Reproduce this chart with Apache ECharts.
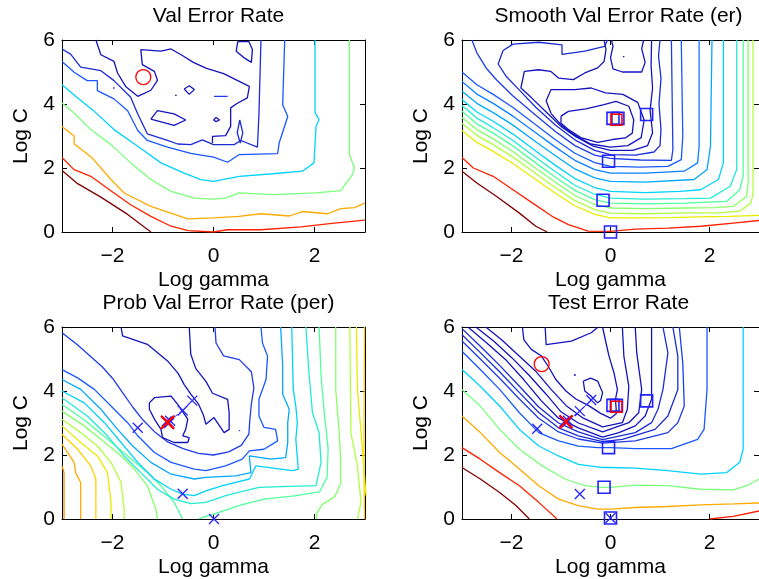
<!DOCTYPE html>
<html>
<head>
<meta charset="utf-8">
<script src="https://cdn.jsdelivr.net/npm/echarts@6/dist/echarts.min.js"></script>
<style>
html, body { margin: 0; padding: 0; background: #fff; }
#main { width: 759px; height: 579px; }
</style>
</head>
<body>
<div id="main"></div>
<script>
var xTicks = [-2, 0, 2];
var yTicks = [0, 2, 4, 6];
var titles = ['Val Error Rate', 'Smooth Val Error Rate (er)', 'Prob Val Error Rate (per)', 'Test Error Rate'];

// ---- Val Error Rate (top left) contour lines, [log gamma, log C]
var valDarkRed = [[-3,1.92],[-2.69,1.51],[-2.23,1.09],[-1.70,0.55],[-1.24,0]];
var valRed = [[-3,2.33],[-2.76,1.95],[-2.43,1.74],[-1.97,1.22],[-1.64,0.85],[-1.24,0.49],[-0.84,0.18],[-0.5,0.04],[0,0],[0.28,0.07],[0.94,0.07],[1.73,0.16],[2.39,0.28],[3,0.37]];
var valOrange = [[-3,3.30],[-2.76,3.0],[-2.76,2.76],[-2.40,2.31],[-2.03,1.64],[-1.77,1.22],[-1.24,0.80],[-0.51,0.41],[0,0.44],[0.5,0.49],[0.94,0.57],[1.5,0.5],[1.76,0.64],[2.26,0.57],[2.52,0.73],[2.79,0.76],[3,0.9]];
var valGreen = [[-3,4.03],[-2.76,3.72],[-2.43,3.20],[-2.03,2.73],[-1.64,2.16],[-1.24,1.64],[-0.84,1.27],[-0.38,1.06],[0,1.03],[0.24,1.06],[0.51,1.22],[1.17,1.17],[2.03,1.22],[2.52,1.29],[2.75,1.79],[2.79,2.0],[2.69,2.42],[2.69,6]];
var valCyan = [[-3,4.60],[-2.69,4.19],[-2.36,3.77],[-1.97,3.20],[-1.50,2.68],[-1.04,2.16],[-0.58,1.84],[-0.25,1.64],[0,1.58],[0.51,1.74],[1.17,1.82],[1.76,1.90],[1.99,2.16],[2.03,3.30],[2.09,3.51],[2.01,3.74],[2.01,6]];
var valBlue = [[-3,5.33],[-2.76,4.99],[-2.5,4.73],[-2.30,4.73],[-2.30,4.42],[-1.97,4.16],[-1.70,3.79],[-1.50,3.17],[-1.31,2.86],[-0.91,2.65],[-0.45,2.46],[0,2.34],[0.28,2.18],[0.51,2.42],[1.27,2.45],[1.30,2.78],[1.47,3.61],[1.37,3.98],[1.41,6]];
var valDark = [[-3,5.72],[-2.83,5.56],[-2.63,5.15],[-2.23,5.04],[-1.97,4.73],[-1.64,4.21],[-1.50,3.69],[-1.31,3.07],[-0.91,2.86],[-0.71,2.75],[-0.45,2.73],[-0.22,2.88],[0,2.73],[0.41,2.73],[0.54,2.86],[0.87,2.65],[0.9,3.69],[0.94,6]];
var valNavy = [[-2.33,6],[-2.23,5.54],[-1.97,5.33],[-1.90,4.97],[-1.74,4.55],[-1.50,4.24],[-1.24,4.43],[-1.11,4.74],[-1.17,5.02],[-1.41,5.23],[-1.44,5.70],[-1.04,5.65],[-0.84,5.72],[-0.6,5.5],[-0.4,5.3],[-0.15,5.12],[0.2,4.95],[0.71,4.55],[0.67,4.19],[0.48,4.03],[0.34,3.88],[0.34,3.30],[0.24,3.01],[-0.02,2.99],[-0.02,2.78]];
var valLoop1 = [[-1.24,3.53],[-1.11,3.79],[-0.78,3.69],[-0.55,3.50],[-0.78,3.33],[-1.24,3.53]];
var valLoop2 = [[-0.58,4.47],[-0.48,4.57],[-0.38,4.45],[-0.48,4.3],[-0.58,4.47]];
var valLoop3 = [[0.48,5.95],[0.45,5.65],[0.6,5.45],[0.75,5.3],[0.77,5.7],[0.7,5.95],[0.48,5.95]];
var valLoop4 = [[0.0,3.5],[0.05,3.58],[0.12,3.5],[0.05,3.45],[0.0,3.5]];
var valLoop5 = [[0.52,3.5],[0.47,3.1],[0.53,2.78],[0.58,3.1],[0.52,3.5]];
var valDash = [[0.01,4.24],[0.28,4.24]];
var valDot1 = [[-1.99,4.5],[-1.96,4.5]];
var valDot2 = [[-0.76,4.27],[-0.73,4.27]];

// ---- Smooth Val Error Rate (top right)
var smDarkRed = [[-3,1.90],[-2.70,1.53],[-2.30,1.11],[-1.84,0.59],[-1.51,0.18],[-1.28,0]];
var smRed = [[-3,2.33],[-2.77,2.0],[-2.37,1.74],[-1.97,1.32],[-1.58,0.91],[-1.18,0.49],[-0.85,0.23],[-0.45,0.03],[0,0.02],[0.5,0.09],[1.16,0.12],[1.82,0.18],[2.48,0.28],[3,0.36]];
var smYellow = [[-3,3.17],[-2.7,2.80],[-2.37,2.52],[-1.97,2.14],[-1.51,1.64],[-1.12,1.22],[-0.72,0.82],[-0.32,0.55],[0,0.44],[0.6,0.44],[1.2,0.45],[1.8,0.47],[2.4,0.49],[3,0.52]];
var smYg = [[-3,3.40],[-2.7,3.02],[-2.37,2.73],[-1.97,2.34],[-1.51,1.83],[-1.12,1.39],[-0.72,0.98],[-0.32,0.70],[0,0.59],[0.7,0.57],[1.5,0.6],[2.2,0.6],[2.61,0.65],[2.84,0.91],[2.88,1.22],[2.88,6]];
var smLg = [[-3,3.58],[-2.7,3.20],[-2.37,2.91],[-1.97,2.51],[-1.51,1.99],[-1.12,1.56],[-0.72,1.14],[-0.32,0.86],[0,0.75],[0.7,0.73],[1.5,0.75],[2.1,0.76],[2.48,0.80],[2.75,1.11],[2.78,1.53],[2.78,6]];
var smGc = [[-3,3.77],[-2.7,3.38],[-2.37,3.09],[-1.97,2.69],[-1.51,2.16],[-1.12,1.72],[-0.72,1.30],[-0.32,1.01],[0,0.90],[0.7,0.88],[1.5,0.9],[2.35,0.96],[2.61,1.32],[2.68,1.74],[2.68,6]];
var smAqua = [[-3,3.95],[-2.7,3.56],[-2.37,3.26],[-1.97,2.86],[-1.51,2.33],[-1.12,1.89],[-0.72,1.46],[-0.32,1.18],[0,1.06],[0.7,1.03],[1.5,1.04],[2.02,1.06],[2.42,1.43],[2.55,1.95],[2.55,6]];
var smCyan = [[-3,4.14],[-2.7,3.75],[-2.37,3.46],[-1.97,3.06],[-1.51,2.53],[-1.12,2.09],[-0.72,1.67],[-0.32,1.39],[0,1.27],[0.7,1.23],[1.4,1.27],[1.82,1.32],[2.18,1.64],[2.28,2.16],[2.28,6]];
var smSky = [[-3,4.40],[-2.7,4.02],[-2.37,3.73],[-1.97,3.34],[-1.51,2.82],[-1.12,2.39],[-0.72,1.97],[-0.32,1.69],[0,1.58],[0.7,1.56],[1.69,1.64],[1.95,1.95],[2.02,2.68],[2.05,6]];
var smLb = [[-3,4.70],[-2.7,4.31],[-2.37,4.02],[-1.97,3.62],[-1.51,3.10],[-1.12,2.66],[-0.72,2.24],[-0.32,1.95],[0,1.84],[0.7,1.84],[1.49,1.90],[1.76,2.16],[1.79,2.68],[1.79,6]];
var smBlue = [[-3,5.0],[-2.7,4.60],[-2.37,4.30],[-1.97,3.89],[-1.51,3.35],[-1.12,2.89],[-0.72,2.46],[-0.32,2.17],[0,2.05],[0.6,2.03],[1.16,2.05],[1.43,2.26],[1.46,2.99],[1.43,6]];
var smBlue2 = [[-2.8,6],[-2.7,5.6],[-2.5,5.1],[-2.3,4.75],[-1.97,4.25],[-1.51,3.65],[-1.12,3.15],[-0.72,2.7],[-0.32,2.4],[0,2.3],[0.6,2.25],[1.23,2.24],[1.26,2.57],[1.23,6]];
var smNavy1 = [[-0.06,6],[-0.12,5.8],[-0.52,5.65],[-0.98,5.55],[-0.98,5.85],[-1.45,5.93],[-1.97,5.87],[-2.17,5.67],[-2.27,5.25],[-2.1,4.85],[-1.85,4.45],[-1.51,3.9],[-1.12,3.35],[-0.72,2.88],[-0.32,2.55],[0,2.42],[0.5,2.4],[0.88,2.5],[1.0,2.7],[1.02,3.2],[0.98,4.0],[1.02,4.8],[0.97,5.5],[1.0,6]];
var smNavy2 = [[-0.13,6],[-0.09,5.7],[-0.13,5.33],[-0.26,5.13],[-0.52,4.97],[-0.75,4.76],[-1.05,4.81],[-1.21,5.02],[-1.45,5.07],[-1.74,5.02],[-1.81,4.5],[-1.6,4.2],[-1.3,3.75],[-1.0,3.3],[-0.7,2.98],[-0.35,2.68],[0,2.55],[0.45,2.55],[0.75,2.7],[0.85,3.1],[0.8,3.8],[0.85,4.5],[0.82,5.2],[0.83,6]];
var smNavy3 = [[0.02,6],[0.05,5.8],[0.0,5.45],[0.05,5.1],[0.24,5.0],[0.63,5.0],[0.70,5.3],[0.63,5.73],[0.67,6]];
var smLoopC = [[-1.2,3.7],[-1.3,4.1],[-1.2,4.45],[-1.0,4.45],[-0.72,4.45],[-0.39,4.5],[-0.1,4.35],[0.25,4.3],[0.55,4.05],[0.68,3.5],[0.62,2.95],[0.35,2.7],[0,2.65],[-0.4,2.75],[-0.75,3.05],[-1.0,3.35],[-1.2,3.7]];
var smLoopA = [[-1.0,3.62],[-0.85,3.77],[-0.5,3.85],[-0.13,3.98],[0.11,4.08],[0.37,3.93],[0.47,3.51],[0.44,3.09],[0.30,2.94],[0.04,2.89],[-0.26,2.8],[-0.6,2.95],[-0.85,3.2],[-1.0,3.4],[-1.0,3.62]];
var smDot = [[0.25,5.48],[0.28,5.48]];

// ---- Prob Val Error Rate (bottom left)
var prOrange2 = [[-3,1.66],[-2.96,1.45],[-2.96,0]];
var prOrange = [[-3,2.34],[-2.76,1.77],[-2.73,1.45],[-2.63,1.14],[-2.63,0]];
var prOrangeR = [[2.99,6],[2.98,3],[2.98,1.5],[2.99,0]];
var prYo = [[-3,2.65],[-2.69,2.18],[-2.43,1.66],[-2.33,1.25],[-2.33,0]];
var prYellow = [[-3,2.91],[-2.63,2.39],[-2.30,1.97],[-2.10,1.45],[-2.03,0.52],[-2.03,0]];
var prYellowR = [[2.83,6],[2.85,4.05],[2.95,2.18],[3.02,0.73]];
var prYg = [[-3,3.12],[-2.63,2.70],[-2.30,2.28],[-2.03,1.77],[-1.83,1.14],[-1.77,0.31],[-1.77,0]];
var prYgR = [[2.70,6],[2.72,2.70],[2.85,1.66],[2.92,0.52],[2.85,0]];
var prGreen = [[-3,3.37],[-2.56,2.91],[-2.23,2.49],[-1.83,1.97],[-1.57,1.56],[-1.31,1.04],[-1.14,0.31],[-1.11,0]];
var prGreenR = [[2.42,6],[2.42,4.05],[2.49,2.7],[2.52,1.77],[2.52,1.1],[2.4,0.7],[2.15,0.45],[2.05,0.2],[2.03,0]];
var prGc = [[-3,3.58],[-2.56,3.1],[-2.10,2.5],[-1.70,1.97],[-1.31,1.45],[-1.04,1.04],[-0.78,0.52],[-0.61,0]];
var prGcR = [[2.09,6],[2.13,4.5],[2.2,3.2],[2.27,2.2],[2.25,1.3],[2.1,0.85],[1.6,0.72],[1.0,0.62],[0.5,0.42],[0.1,0.2],[-0.2,0.06],[-0.3,0]];
var prCyan = [[-3,3.79],[-2.50,3.22],[-2.10,2.60],[-1.77,1.97],[-1.44,1.45],[-1.11,0.93],[-0.78,0.62],[-0.45,0.48],[-0.15,0.52],[0.24,0.73],[0.90,0.99],[1.5,1.02],[2.03,1.04],[2.13,1.77],[2.09,2.70],[1.96,3.32],[1.89,4.57],[1.83,6]];
var prSky = [[-3,4.0],[-2.56,3.63],[-2.16,3.01],[-1.83,2.39],[-1.5,1.77],[-1.17,1.25],[-0.84,0.93],[-0.61,0.78],[-0.38,0.73],[-0.15,0.88],[0.18,1.04],[0.71,1.25],[0.84,1.66],[1.56,1.51],[1.68,1.56],[1.63,2.49],[1.66,3.01],[1.63,3.53],[1.58,4.05],[1.55,6]];
var prBlue = [[-3,4.36],[-2.63,4.05],[-2.23,3.43],[-1.90,2.80],[-1.60,2.28],[-1.24,1.77],[-0.84,1.40],[-0.38,1.25],[-0.15,1.30],[0.44,1.35],[0.74,1.45],[0.71,1.97],[1.14,1.87],[1.43,1.92],[1.47,2.39],[1.47,3.01],[1.5,3.43],[1.37,3.9],[1.37,4.8],[1.33,6]];
var prBlue2 = [[-3,4.67],[-2.69,4.41],[-2.36,4.05],[-2.03,3.53],[-1.70,3.01],[-1.50,2.60],[-1.17,2.08],[-0.84,1.77],[-0.38,1.56],[-0.15,1.51],[0.24,1.66],[0.57,1.87],[0.71,2.13],[1.0,2.18],[1.27,2.44],[1.23,2.80],[1.0,2.86],[0.90,3.22],[0.90,3.74],[1.04,4.36],[1.07,5.09],[0.97,5.5],[0.94,6]];
var prNavy = [[-3,5.82],[-2.7,5.45],[-2.45,5.1],[-2.2,4.75],[-2.0,4.4],[-1.8,3.95],[-1.6,3.5],[-1.4,3.1],[-1.15,2.7],[-0.9,2.4],[-0.6,2.2],[-0.3,2.05],[0.0,2.0],[0.3,2.1],[0.55,2.3],[0.7,2.65],[0.72,3.1],[0.75,3.6],[0.8,4.1],[0.75,4.6],[0.51,4.98],[0.2,5.1],[0.05,5.5],[0.03,6]];
var prNavyA = [[-1.83,6],[-1.80,5.72],[-1.31,5.46],[-0.91,4.94],[-0.70,4.55],[-0.58,4.2],[-0.45,3.9],[-0.3,3.6],[-0.2,3.25],[-0.15,2.96],[0.01,3.17],[0.21,2.70],[0.31,2.80],[0.31,3.32],[0.28,3.74],[-0.02,3.93],[-0.15,4.3],[-0.35,4.7],[-0.45,5.15],[-0.48,6]];
var prLoop = [[-1.27,3.63],[-1.17,3.79],[-0.84,3.84],[-0.71,3.58],[-0.51,3.12],[-0.55,2.80],[-0.61,2.60],[-0.48,2.54],[-0.51,2.39],[-0.78,2.39],[-1.01,2.54],[-1.04,2.80],[-1.17,3.12],[-1.27,3.43],[-1.27,3.63]];
var prDot = [[0.5,2.76],[0.53,2.76]];

// ---- Test Error Rate (bottom right)
var teDarkRed = [[-3,1.61],[-2.63,1.25],[-2.24,0.83],[-1.91,0.42],[-1.64,0]];
var teRed = [[-3,2.23],[-2.63,1.87],[-2.24,1.45],[-1.84,1.04],[-1.45,0.52],[-1.08,0]];
var teRedR = [[2.0,0],[2.48,0.08],[3,0.25]];
var teOrange = [[-3,3.22],[-2.63,2.70],[-2.24,2.08],[-1.84,1.56],[-1.45,1.04],[-1.05,0.62],[-0.65,0.42],[-0.26,0.31],[0,0.31],[0.5,0.36],[1.16,0.39],[1.82,0.44],[2.48,0.47],[3,0.5]];
var teGreen = [[-3,4.05],[-2.63,3.53],[-2.24,2.80],[-1.84,2.18],[-1.38,1.66],[-0.92,1.25],[-0.52,1.04],[-0.19,0.99],[0,0.99],[0.5,1.06],[1.16,1.04],[1.82,0.93],[2.48,0.91],[2.75,1.04],[3,1.25]];
var teCyan = [[-3,4.67],[-2.63,4.15],[-2.24,3.53],[-1.84,2.80],[-1.45,2.28],[-1.05,1.97],[-0.65,1.71],[-0.19,1.61],[0,1.61],[0.5,1.59],[1.16,1.51],[1.82,1.40],[2.35,1.45],[2.61,1.77],[2.68,2.18],[2.68,6]];
var teBlue = [[-3,5.24],[-2.63,4.67],[-2.24,4.05],[-1.84,3.32],[-1.45,2.70],[-1.05,2.44],[-0.65,2.28],[-0.26,2.23],[0,2.23],[0.5,2.2],[1.23,2.2],[1.76,2.49],[1.89,2.80],[1.95,4.05],[1.95,6]];
var teN6 = [[-3,5.56],[-2.63,5.0],[-2.24,4.4],[-1.84,3.75],[-1.45,3.15],[-1.05,2.72],[-0.65,2.5],[-0.16,2.37],[0.5,2.44],[1.16,2.70],[1.36,3.01],[1.49,3.53],[1.46,4.88],[1.39,6]];
var teN5 = [[-3,5.76],[-2.63,5.2],[-2.24,4.6],[-1.84,3.95],[-1.45,3.33],[-1.05,2.85],[-0.65,2.6],[-0.16,2.42],[0.24,2.49],[0.90,2.80],[1.16,3.22],[1.36,4.05],[1.36,5.09],[1.26,6]];
var teN4 = [[-3,5.95],[-2.63,5.4],[-2.24,4.8],[-1.84,4.15],[-1.45,3.5],[-1.05,3.0],[-0.65,2.72],[-0.16,2.48],[0.5,2.70],[0.83,3.01],[0.96,3.43],[1.06,4.05],[1.16,5.19],[1.06,6]];
var teN3 = [[-2.88,6],[-2.5,5.5],[-2.1,4.95],[-1.75,4.35],[-1.4,3.7],[-1.05,3.15],[-0.65,2.85],[-0.16,2.56],[0.17,2.70],[0.50,2.91],[0.70,3.22],[0.83,3.74],[0.83,6]];
var teN2 = [[-2.72,6],[-2.35,5.55],[-2.0,5.05],[-1.65,4.5],[-1.3,3.9],[-1.0,3.35],[-0.65,3.0],[-0.16,2.72],[0.37,3.01],[0.57,3.32],[0.63,4.05],[0.53,5.19],[0.5,6]];
var teN1 = [[-2.52,6],[-2.2,5.6],[-1.85,5.1],[-1.5,4.6],[-1.2,4.05],[-0.9,3.55],[-0.55,3.15],[-0.16,2.88],[0.24,3.01],[0.34,3.43],[0.37,4.15],[0.27,5.09],[0.24,6]];
var teN0 = [[-1.78,6],[-1.75,5.6],[-1.6,5.3],[-1.4,5.1],[-1.25,4.75],[-1.1,4.35],[-0.9,4.0],[-0.7,3.75],[-0.45,3.55],[-0.2,3.3],[0.0,3.15],[0.12,3.3],[0.1,3.74],[0.14,4.05],[0.07,4.57],[-0.03,5.09],[-0.09,5.5],[-0.16,6]];
var teInlet = [[-1.32,6],[-1.3,5.45],[-0.79,5.56],[-0.39,5.82],[-0.25,6]];
var teLoop = [[-0.55,4.31],[-0.4,4.4],[-0.26,4.31],[-0.16,3.95],[-0.2,3.7],[-0.26,3.63],[-0.4,3.85],[-0.52,4.0],[-0.55,4.31]];
var teDot = [[-0.74,4.5],[-0.70,4.5]];

// ---- markers
var redCircle = [[-1.39,4.84]];
var smSquares = [[0.73,3.67],[0.05,3.55],[0.15,3.55],[-0.04,2.21],[-0.15,0.99],[0,0]];
var smRedSquare = [[0.12,3.51]];
var prCrosses = [[-0.88,3.0],[-0.93,3.05],[-0.86,3.07],[-0.61,3.39],[-0.42,3.70],[-1.5,2.85],[-0.61,0.79],[0.01,0]];
var prRedCross = [[-0.91,3.02]];
var prPath = [[-0.91,3.02],[-0.61,3.39],[-0.42,3.70]];
var teSquares = [[0.73,3.69],[0.05,3.55],[0.12,3.55],[-0.04,2.23],[-0.13,0.99],[0,0.03]];
var teRedSquare = [[0.12,3.51]];
var teCrosses = [[-0.88,3.02],[-0.93,3.05],[-0.86,3.07],[-0.62,3.37],[-0.39,3.72],[-1.48,2.82],[-0.62,0.78],[0,0.03]];
var teRedCross = [[-0.9,3.04]];
var tePath = [[-0.9,3.04],[-0.62,3.37],[-0.39,3.72]];

var C = {
  darkred: '#800000', red: '#ff2200', orange2: '#ff8c00', orange: '#ffaa00', yo: '#ffd000',
  yellow: '#e8ec00', yg: '#b0ff40', lg: '#86ff6a', green: '#7cff7c', gc: '#50ff9c', aqua: '#20ecd4',
  cyan: '#00d2ff', sky: '#00a8ff', lb: '#0a80ff', blue: '#1a58ff', blue2: '#1e3ce8', dark: '#1c2cd4', navy: '#1414be'
};

var contours = [
  // panel 0
  [0, valDarkRed, C.darkred], [0, valRed, C.red], [0, valOrange, C.orange], [0, valGreen, C.green],
  [0, valCyan, C.cyan], [0, valBlue, C.blue], [0, valDark, C.dark], [0, valNavy, C.navy],
  [0, valLoop1, C.navy], [0, valLoop2, C.navy], [0, valLoop3, C.navy], [0, valLoop4, C.navy],
  [0, valLoop5, C.dark], [0, valDash, C.blue2], [0, valDot1, C.dark], [0, valDot2, C.navy],
  // panel 1
  [1, smDarkRed, C.darkred], [1, smRed, C.red], [1, smYellow, C.yellow], [1, smYg, C.yg], [1, smLg, C.lg],
  [1, smGc, C.gc], [1, smAqua, C.aqua], [1, smCyan, C.cyan], [1, smSky, C.sky], [1, smLb, C.lb],
  [1, smBlue, C.blue], [1, smBlue2, C.blue2], [1, smNavy1, C.dark], [1, smNavy2, C.navy], [1, smNavy3, C.navy],
  [1, smLoopC, C.navy], [1, smLoopA, C.navy], [1, smDot, C.navy],
  // panel 2
  [2, prOrange2, C.orange2], [2, prOrange, C.orange], [2, prOrangeR, C.yo], [2, prYo, C.yo],
  [2, prYellow, C.yellow], [2, prYellowR, C.yellow], [2, prYg, C.yg], [2, prYgR, C.yg],
  [2, prGreen, C.lg], [2, prGreenR, C.lg], [2, prGc, C.gc], [2, prGcR, C.gc], [2, prCyan, C.aqua],
  [2, prSky, C.cyan], [2, prBlue, C.sky], [2, prBlue2, C.blue], [2, prNavy, C.blue2],
  [2, prNavyA, C.navy], [2, prLoop, C.navy], [2, prDot, C.blue],
  // panel 3
  [3, teDarkRed, C.darkred], [3, teRed, C.red], [3, teRedR, C.red], [3, teOrange, C.orange],
  [3, teGreen, C.green], [3, teCyan, C.cyan], [3, teBlue, C.blue], [3, teN6, C.blue2], [3, teN5, C.dark],
  [3, teN4, C.dark], [3, teN3, C.navy], [3, teN2, C.navy], [3, teN1, C.navy], [3, teN0, C.navy],
  [3, teInlet, C.navy], [3, teLoop, C.navy], [3, teDot, C.navy]
];

var font = 'Liberation Sans, Arial, Helvetica, sans-serif';
var fs = 21;
var grids = [
  { left: 62, top: 40, width: 303, height: 192 },
  { left: 462, top: 40, width: 303, height: 192 },
  { left: 62, top: 327, width: 303, height: 192 },
  { left: 462, top: 327, width: 303, height: 192 }
];
var crossPath = 'path://M0,0L10,10M10,0L0,10';

function minus(v) { return v < 0 ? '\u2212' + (-v) : String(v); }

var xAxes = [], yAxes = [], titleList = [];
for (var p = 0; p < 4; p++) {
  var line = { show: true, onZero: false, lineStyle: { color: '#000', width: 1 } };
  xAxes.push({
    type: 'value', gridIndex: p, min: -3, max: 3, position: 'bottom',
    axisLine: line,
    axisTick: { show: true, inside: true, length: 5, customValues: xTicks, lineStyle: { color: '#000' } },
    axisLabel: { customValues: xTicks, formatter: minus, color: '#000', fontSize: fs, fontFamily: font, margin: 14 },
    splitLine: { show: false },
    name: 'Log gamma', nameLocation: 'middle', nameGap: 38,
    nameTextStyle: { color: '#000', fontSize: fs, fontFamily: font }
  });
  yAxes.push({
    type: 'value', gridIndex: p, min: 0, max: 6, interval: 2, position: 'left',
    axisLine: line,
    axisTick: { show: true, inside: true, length: 5, lineStyle: { color: '#000' } },
    axisLabel: { color: '#000', fontSize: fs, fontFamily: font, margin: 7 },
    splitLine: { show: false },
    name: 'Log C', nameLocation: 'middle', nameGap: 30, nameRotate: 90,
    nameTextStyle: { color: '#000', fontSize: fs, fontFamily: font }
  });
  titleList.push({
    text: titles[p], left: grids[p].left + 151.5, top: p < 2 ? 1 : 288, textAlign: 'center',
    textStyle: { color: '#000', fontSize: fs, fontWeight: 'normal', fontFamily: font }
  });
}
for (var q = 0; q < 4; q++) {
  xAxes.push({
    type: 'value', gridIndex: q, min: -3, max: 3, position: 'top',
    axisLine: { show: true, onZero: false, lineStyle: { color: '#000', width: 1 } },
    axisTick: { show: true, inside: true, length: 5, customValues: xTicks, lineStyle: { color: '#000' } },
    axisLabel: { show: false }, splitLine: { show: false }
  });
  yAxes.push({
    type: 'value', gridIndex: q, min: 0, max: 6, interval: 2, position: 'right',
    axisLine: { show: true, onZero: false, lineStyle: { color: '#000', width: 1 } },
    axisTick: { show: true, inside: true, length: 5, lineStyle: { color: '#000' } },
    axisLabel: { show: false }, splitLine: { show: false }
  });
}

var series = contours.map(function (c) {
  return {
    type: 'line', xAxisIndex: c[0], yAxisIndex: c[0], data: c[1],
    symbol: 'none', showSymbol: false, clip: true, silent: true,
    lineStyle: { color: c[2], width: 1.3 }, z: 2
  };
});

function markers(panel, data, symbol, size, color, width, z) {
  return {
    type: 'scatter', xAxisIndex: panel, yAxisIndex: panel, data: data,
    symbol: symbol, symbolSize: size, silent: true, z: z || 5,
    itemStyle: { color: 'transparent', borderColor: color, borderWidth: width, opacity: 1 }
  };
}
function path(panel, data) {
  return {
    type: 'line', xAxisIndex: panel, yAxisIndex: panel, data: data, symbol: 'none',
    silent: true, z: 4, lineStyle: { color: '#2a2aff', width: 1, type: [3, 2] }
  };
}

series.push(markers(0, redCircle, 'circle', 15, '#ff0000', 1.3));
series.push(markers(1, smSquares, 'rect', 12, '#2222ff', 1.6));
series.push(markers(1, smRedSquare, 'rect', 11, '#ff0000', 1.6, 6));
series.push(path(2, prPath));
series.push(markers(2, prCrosses, crossPath, 10, '#2222ff', 1.3));
series.push(markers(2, prRedCross, crossPath, 13, '#ff0000', 2.2, 6));
series.push(path(3, tePath));
series.push(markers(3, redCircle, 'circle', 15, '#ff0000', 1.3));
series.push(markers(3, teSquares, 'rect', 12, '#2222ff', 1.6));
series.push(markers(3, teRedSquare, 'rect', 11, '#ff0000', 1.6, 6));
series.push(markers(3, teCrosses, crossPath, 10, '#2222ff', 1.3));
series.push(markers(3, teRedCross, crossPath, 13, '#ff0000', 2.2, 6));

var chart = echarts.init(document.getElementById('main'), null, { renderer: 'canvas' });
chart.setOption({
  backgroundColor: '#fff',
  animation: false,
  title: titleList,
  grid: grids,
  xAxis: xAxes,
  yAxis: yAxes,
  series: series
});
</script>
</body>
</html>
